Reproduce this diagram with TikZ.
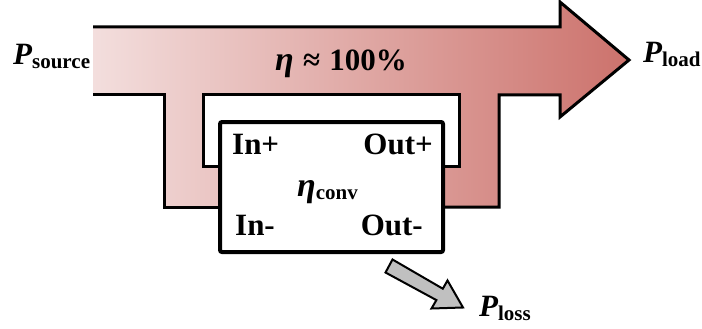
\documentclass[tikz,border=0pt]{standalone}
\usepackage{fontspec}
\setmainfont{Liberation Serif}
\definecolor{flowL}{RGB}{243,222,221}
\definecolor{flowR}{RGB}{204,114,108}
\definecolor{lossgray}{RGB}{192,192,192}
\tikzset{
  outline/.style={draw=black,line width=3pt,line join=miter},
  lbl/.style={inner sep=0pt,font=\fontsize{31}{31}\selectfont\bfseries},
  convbox/.style={draw=black,fill=white,line width=4pt,rounded corners=2pt,minimum width=223pt,minimum height=130pt,inner sep=0pt},
  lossarrow/.style={draw=black,fill=lossgray,line width=2pt,line join=miter}
}
\newcommand{\Pwith}[1]{{\itshape P}\raisebox{-4pt}{\fontsize{21}{21}\selectfont #1}}
\begin{document}
\begin{tikzpicture}[x=1pt,y=-1pt]
\useasboundingbox (0,0) rectangle (702,329);
% flow fill
\shade[left color=flowL,right color=flowR,even odd rule]
 (93,27) -- (560,27) -- (560,2) -- (629,60) -- (560,117) -- (560,95) -- (499,95) -- (499,207) -- (164,207) -- (164,95) -- (93,95) -- cycle
 (203,95) -- (459,95) -- (459,166) -- (203,166) -- cycle;
% outlines
\draw[outline] (93,95) -- (164,95) -- (164,207) -- (225,207);
\draw[outline] (438,207) -- (499,207) -- (499,95) -- (560,95) -- (560,117) -- (629,60) -- (560,2) -- (560,27) -- (93,27);
\draw[outline] (225,166) -- (203,166) -- (203,95) -- (459,95) -- (459,166) -- (438,166);
% converter
\node[convbox] (conv) at (331.5,187) {};
\node[lbl,anchor=base west] (inp) at (232,154) {In+};
\node[lbl,anchor=base east] (outp) at (433,154) {Out+};
\node[lbl,anchor=base west] (inm) at (235,235) {In-};
\node[lbl,anchor=base east] (outm) at (423,235) {Out-};
\node[lbl,anchor=base west] (etaconv) at (297,196) {{\fontsize{34}{34}\selectfont\itshape η}\raisebox{-3pt}{\fontsize{21}{21}\selectfont conv}};
% main flow label
\node[lbl,anchor=base west] (eta) at (275,71) {{\fontsize{34}{34}\selectfont\itshape η}\hspace{0.3em}≈\hspace{0.3em}100\%};
% terminal labels
\node[lbl,anchor=base west] (psource) at (13,65) {\Pwith{source}};
\node[lbl,anchor=base west] (pload) at (643,63) {\Pwith{load}};
\node[lbl,anchor=base west] (ploss) at (479,316) {\Pwith{loss}};
% loss arrow
\draw[lossarrow] (385.5,272.5) -- (392.5,259.5) -- (442.8,288.7) -- (447.5,280.5) -- (463,307.5) -- (431.5,308.5) -- (436.4,300.1) -- cycle;
\end{tikzpicture}
\end{document}
